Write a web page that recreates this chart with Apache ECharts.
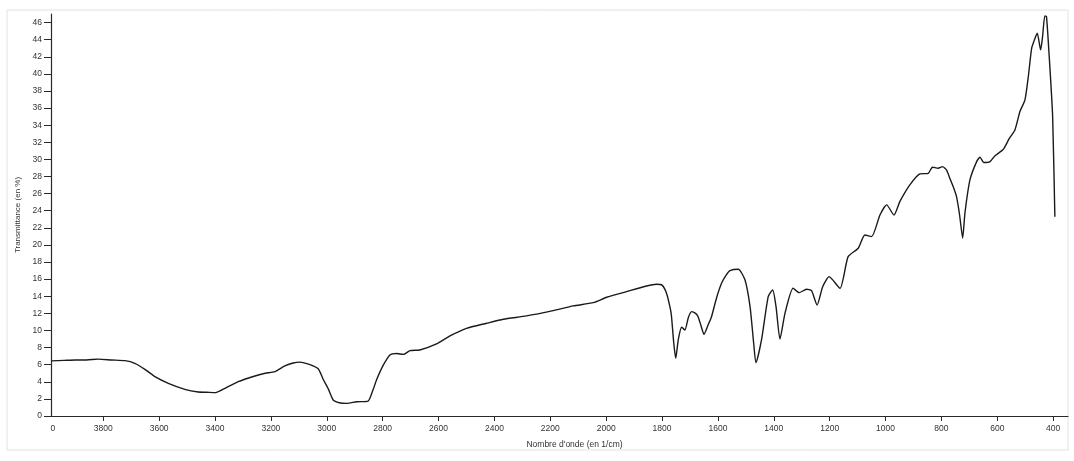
<!DOCTYPE html>
<html>
<head>
<meta charset="utf-8">
<script src="https://cdn.jsdelivr.net/npm/echarts@6/dist/echarts.min.js"></script>
<style>
html,body{margin:0;padding:0;background:#fff;}
#chart{width:1074px;height:461px;}
</style>
</head>
<body>
<div id="chart"></div>
<script>
const wavenumbers = [3986,3940,3900,3860,3818,3770,3722,3687,3651,3615,3567,3508,3460,3430,3400,3376,3317,3257,3220,3186,3150,3120,3096,3060,3030,3013,2995,2977,2955,2929,2893,2852,2835,2822,2800,2774,2750,2726,2702,2667,2607,2559,2500,2428,2368,2285,2190,2118,2046,1998,1927,1855,1820,1800,1784,1770,1766,1758,1751,1742,1730,1718,1706,1694,1680,1671,1660,1650,1637,1623,1605,1587,1570,1557,1527,1503,1485,1472,1464,1444,1420,1404,1392,1378,1360,1331,1309,1283,1265,1245,1225,1202,1163,1134,1098,1074,1050,1020,996,970,949,913,877,847,832,812,796,782,770,758,746,735,724,716,698,674,662,648,627,609,579,557,537,519,501,489,477,465,457,445,438,430,424,412,402,394];
const transmittance = [6.45,6.5,6.55,6.55,6.65,6.55,6.47,6.16,5.46,4.6,3.82,3.12,2.81,2.78,2.73,3.04,4.01,4.68,5.0,5.18,5.85,6.2,6.3,6.0,5.5,4.3,3.2,1.87,1.55,1.48,1.67,1.75,3.0,4.21,5.8,7.13,7.3,7.2,7.64,7.72,8.42,9.36,10.25,10.84,11.31,11.7,12.32,12.87,13.25,13.88,14.54,15.2,15.4,15.3,14.35,12.5,11.6,8.5,6.75,8.9,10.37,10.06,11.5,12.2,12.0,11.61,10.5,9.55,10.5,11.61,13.8,15.52,16.5,17.0,17.16,15.9,12.78,8.5,6.23,8.89,13.95,14.74,12.78,9.0,12.0,14.93,14.42,14.82,14.65,12.98,15.12,16.29,14.93,18.63,19.61,21.17,20.97,23.5,24.68,23.5,25.06,27.02,28.3,28.38,29.09,28.97,29.16,28.77,27.8,26.82,25.65,23.5,20.8,23.7,27.6,29.74,30.26,29.63,29.7,30.41,31.15,32.45,33.45,35.6,36.96,39.69,43.0,44.17,44.76,42.8,44.36,46.78,46.7,40.85,35.0,23.3];
const xTickValues = [3800,3600,3400,3200,3000,2800,2600,2400,2200,2000,1800,1600,1400,1200,1000,800,600,400];
const xLabelValues = [3980].concat(xTickValues);
const yTickValues = [0,2,4,6,8,10,12,14,16,18,20,22,24,26,28,30,32,34,36,38,40,42,44,46];
const xTitle = "Nombre d'onde (en 1/cm)";
const yTitle = "Transmittance (en %)";

const seriesData = wavenumbers.map((w, i) => [w, transmittance[i]]);
const chart = echarts.init(document.getElementById('chart'), null, {renderer: 'canvas'});
const font = 'Liberation Sans';
chart.setOption({
  animation: false,
  backgroundColor: '#ffffff',
  grid: {left: 51, right: 6, top: 14, bottom: 45, containLabel: false},
  graphic: [{
    type: 'rect', shape: {x: 7, y: 10, width: 1061, height: 440},
    style: {fill: 'none', stroke: '#e2e2e2', lineWidth: 1}, z: -1
  }],
  xAxis: {
    type: 'value', inverse: true, min: 347, max: 3987,
    name: xTitle, nameLocation: 'middle', nameGap: 24,
    nameTextStyle: {fontFamily: font, fontSize: 8.5, color: '#333', padding: [0, 0, 0, 30]},
    axisLine: {lineStyle: {color: '#2a2a2a', width: 1.2}},
    axisTick: {show: true, length: 5, customValues: xTickValues, lineStyle: {color: '#2a2a2a'}},
    axisLabel: {
      customValues: xLabelValues, fontFamily: font, fontSize: 8.5, color: '#333', margin: 8,
      formatter: v => (v > 3900 ? '0' : String(v))
    },
    splitLine: {show: false}
  },
  yAxis: {
    type: 'value', min: 0, max: 47,
    name: yTitle, nameLocation: 'middle', nameGap: 27, nameRotate: 90,
    nameTextStyle: {fontFamily: font, fontSize: 8, color: '#333'},
    axisLine: {show: true, lineStyle: {color: '#2a2a2a', width: 1.2}},
    axisTick: {show: true, length: 7, customValues: yTickValues, lineStyle: {color: '#2a2a2a'}},
    axisLabel: {customValues: yTickValues, fontFamily: font, fontSize: 8.5, color: '#333', margin: 9},
    splitLine: {show: false}
  },
  series: [{
    type: 'line', data: seriesData, showSymbol: false, smooth: 0.2,
    lineStyle: {color: '#1a1a1a', width: 1.4}
  }]
});
</script>
</body>
</html>
